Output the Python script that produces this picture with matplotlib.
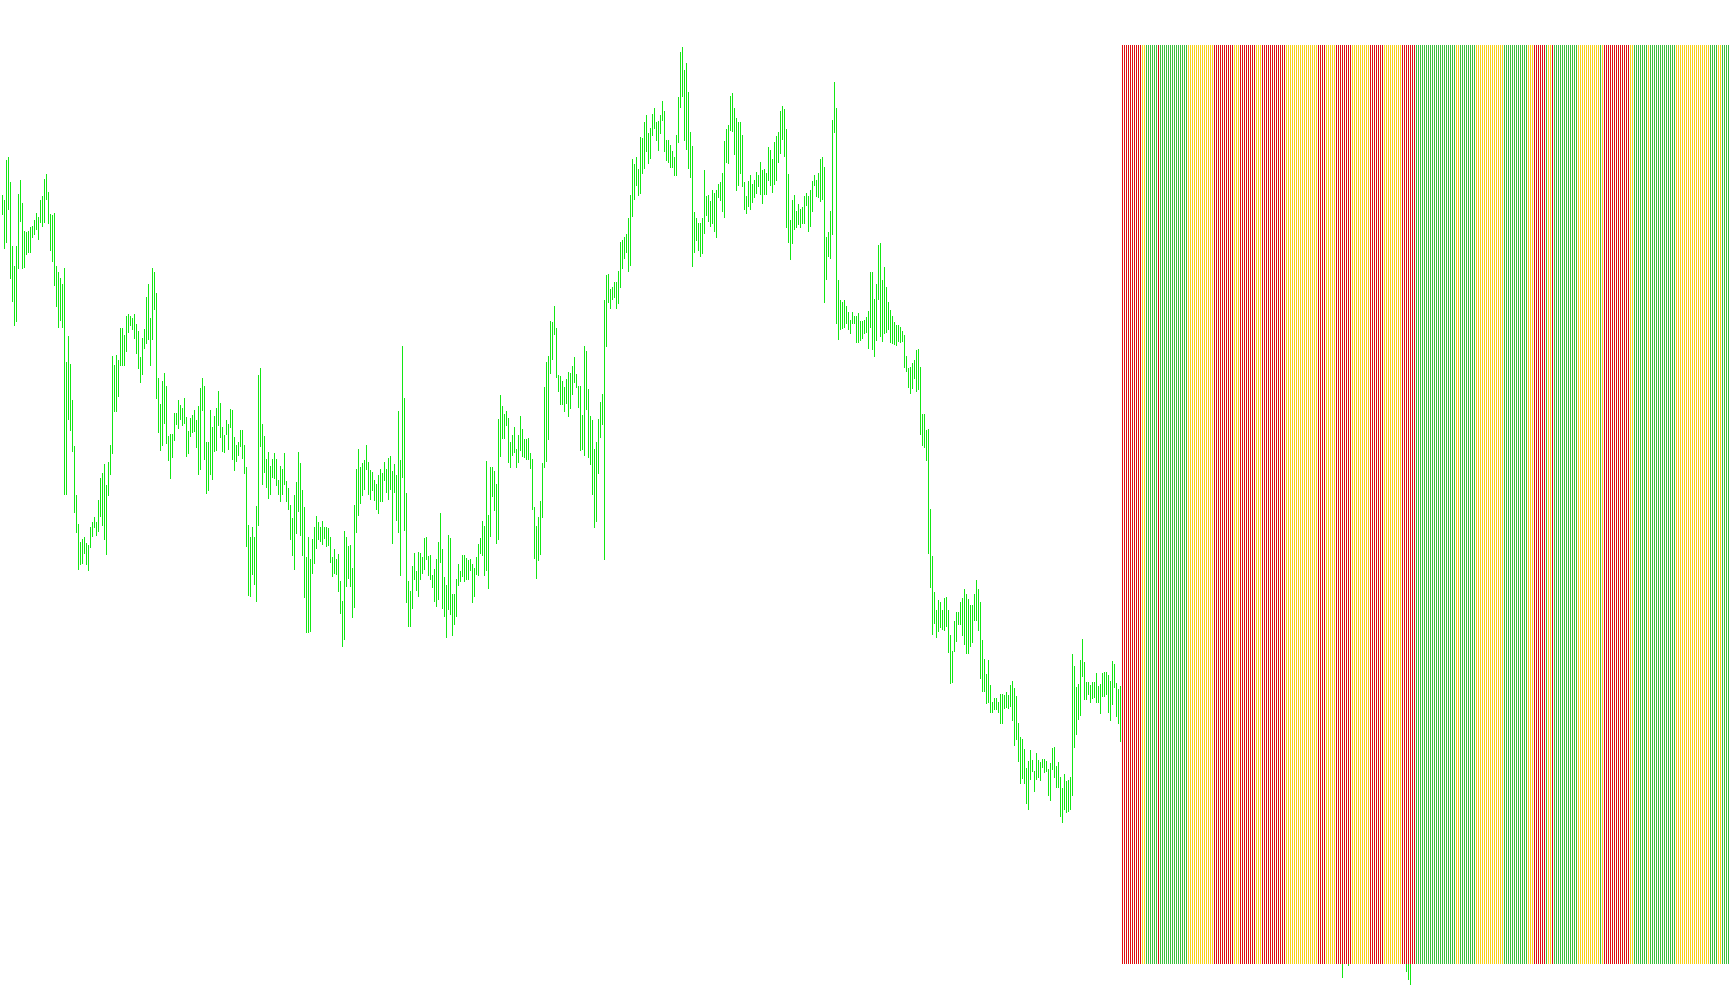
import numpy as np
import matplotlib
matplotlib.use("Agg")
import matplotlib.pyplot as plt

# high / low of each bar (price units)
bar_high = [
    734, 730, 766, 769, 746, 688, 670, 688, 735, 748,
    727, 702, 701, 702, 705, 706, 712, 718, 714, 730,
    733, 749, 753, 737, 717, 716, 718, 670, 664, 659,
    654, 668, 583, 606, 581, 548, 507, 462, 436, 420,
    422, 424, 419, 417, 433, 438, 442, 438, 458, 478,
    482, 490, 471, 492, 508, 588, 580, 589, 585, 614,
    614, 607, 625, 626, 625, 623, 626, 617, 611, 587,
    605, 613, 642, 654, 623, 668, 664, 645, 568, 545,
    566, 573, 561, 516, 518, 518, 537, 537, 548, 544,
    541, 550, 533, 520, 532, 535, 539, 530, 543, 559,
    568, 561, 510, 510, 539, 524, 534, 541, 557, 546,
    524, 517, 530, 527, 540, 539, 515, 508, 510, 521,
    521, 508, 488, 435, 424, 433, 424, 452, 571, 577,
    527, 516, 495, 501, 489, 495, 500, 495, 476, 489,
    486, 500, 475, 469, 453, 441, 462, 474, 501, 491,
    467, 451, 406, 424, 404, 422, 433, 443, 438, 433,
    439, 433, 433, 432, 424, 406, 413, 404, 409, 384,
    366, 430, 424, 416, 417, 396, 453, 486, 504, 488,
    491, 494, 508, 492, 485, 483, 476, 472, 480, 486,
    482, 492, 486, 496, 498, 484, 490, 480, 538, 494,
    597, 550, 464, 384, 375, 398, 410, 393, 411, 410,
    406, 423, 424, 407, 408, 390, 395, 404, 420, 446,
    413, 388, 381, 426, 423, 373, 373, 386, 400, 393,
    408, 408, 405, 403, 404, 400, 396, 406, 418, 423,
    439, 434, 493, 444, 488, 488, 484, 472, 531, 553,
    543, 536, 538, 532, 510, 517, 524, 504, 517, 534,
    522, 513, 513, 514, 500, 495, 451, 434, 442, 457,
    491, 560, 583, 588, 620, 619, 634, 614, 571, 570,
    566, 560, 567, 574, 573, 579, 587, 572, 561, 561,
    535, 597, 593, 558, 534, 530, 504, 510, 531, 547,
    554, 639, 662, 663, 649, 651, 655, 655, 665, 692,
    693, 696, 699, 713, 734, 767, 762, 769, 758, 787,
    786, 800, 807, 790, 795, 808, 813, 800, 801, 807,
    819, 810, 784, 784, 780, 774, 769, 789, 823, 864,
    868, 848, 854, 828, 791, 779, 719, 713, 709, 709,
    713, 757, 733, 734, 729, 739, 736, 739, 744, 746,
    754, 783, 794, 798, 824, 827, 813, 804, 800, 800,
    789, 746, 733, 747, 752, 744, 748, 755, 752, 764,
    757, 758, 754, 778, 775, 767, 782, 788, 791, 810,
    815, 812, 794, 753, 712, 730, 734, 720, 726, 722,
    723, 733, 736, 733, 739, 747, 752, 748, 754, 767,
    769, 760, 696, 701, 720, 802, 837, 813, 657, 639,
    637, 639, 634, 628, 621, 628, 625, 625, 627, 620,
    620, 621, 624, 629, 664, 664, 640, 654, 689, 691,
    657, 669, 651, 637, 630, 625, 619, 616, 616, 615,
    611, 607, 588, 577, 578, 582, 585, 594, 595, 578,
    536, 536, 521, 522, 450, 407, 374, 358, 367, 365,
    358, 369, 370, 358, 335, 321, 348, 356, 356, 365,
    369, 377, 373, 368, 363, 363, 373, 385, 377, 365,
    331, 314, 300, 313, 290, 275, 278, 278, 275, 282,
    282, 281, 284, 281, 290, 294, 287, 280, 256, 243,
    241, 232, 215, 221, 231, 222, 212, 228, 222, 220,
    223, 223, 221, 214, 219, 233, 234, 217, 220, 207,
    197, 209, 203, 204, 207, 318, 307, 288, 291, 313,
    332, 311, 293, 293, 290, 293, 293, 301, 289, 291,
    301, 302, 302, 299, 294, 312, 309, 292, 286, 289,
]
bar_low = [
    717, 686, 692, 722, 659, 638, 616, 620, 668, 711,
    668, 669, 681, 683, 683, 696, 699, 703, 694, 710,
    706, 710, 731, 709, 684, 674, 653, 634, 615, 621,
    615, 463, 463, 531, 521, 502, 447, 429, 395, 400,
    401, 410, 400, 394, 415, 425, 433, 426, 430, 443,
    435, 422, 409, 462, 481, 500, 538, 538, 552, 580,
    580, 580, 593, 610, 616, 613, 605, 591, 577, 565,
    572, 596, 600, 604, 580, 604, 631, 550, 519, 503,
    508, 528, 509, 494, 478, 497, 512, 527, 523, 531,
    526, 528, 498, 500, 516, 519, 520, 506, 481, 486,
    539, 495, 464, 467, 481, 477, 502, 503, 526, 515,
    502, 501, 518, 504, 524, 495, 485, 493, 499, 507,
    496, 482, 416, 372, 371, 391, 382, 366, 435, 507,
    472, 483, 470, 460, 463, 479, 478, 471, 463, 457,
    463, 472, 457, 450, 422, 408, 395, 428, 448, 426,
    408, 370, 338, 338, 339, 392, 401, 414, 422, 421,
    418, 423, 416, 417, 402, 389, 392, 391, 375, 355,
    325, 332, 380, 387, 380, 352, 361, 429, 444, 455,
    462, 468, 486, 463, 459, 467, 458, 450, 446, 457,
    457, 476, 465, 459, 468, 419, 465, 440, 429, 390,
    479, 431, 365, 344, 344, 360, 386, 376, 371, 386,
    392, 395, 404, 390, 386, 379, 366, 362, 368, 402,
    360, 353, 334, 359, 354, 335, 345, 353, 381, 384,
    389, 384, 386, 386, 394, 365, 371, 391, 390, 410,
    408, 390, 394, 378, 425, 461, 449, 419, 422, 498,
    514, 514, 526, 492, 488, 499, 501, 488, 492, 503,
    498, 497, 495, 495, 487, 450, 405, 387, 403, 409,
    442, 488, 493, 513, 573, 586, 608, 569, 557, 545,
    545, 538, 546, 534, 541, 554, 565, 560, 542, 503,
    504, 499, 540, 497, 490, 463, 433, 439, 482, 515,
    527, 404, 597, 637, 632, 640, 642, 632, 636, 651,
    668, 677, 683, 665, 671, 715, 731, 743, 734, 736,
    754, 759, 774, 763, 768, 789, 795, 784, 775, 790,
    802, 774, 766, 764, 760, 760, 752, 752, 782, 814,
    824, 784, 776, 759, 751, 670, 683, 693, 684, 679,
    682, 700, 716, 711, 706, 709, 702, 696, 732, 730,
    720, 714, 764, 763, 793, 792, 771, 739, 743, 754,
    742, 722, 718, 724, 722, 728, 732, 736, 742, 735,
    727, 735, 735, 748, 743, 737, 744, 748, 764, 772,
    785, 770, 705, 692, 676, 691, 703, 705, 708, 705,
    709, 709, 725, 702, 706, 720, 743, 733, 732, 729,
    731, 637, 658, 679, 677, 699, 791, 618, 604, 613,
    614, 615, 618, 613, 609, 618, 618, 601, 601, 603,
    605, 609, 610, 596, 615, 595, 588, 603, 640, 606,
    602, 609, 610, 613, 601, 600, 599, 598, 602, 601,
    602, 578, 575, 560, 555, 559, 568, 557, 558, 518,
    508, 506, 494, 410, 379, 336, 346, 334, 339, 343,
    341, 340, 344, 320, 292, 293, 321, 330, 345, 345,
    335, 327, 319, 319, 325, 329, 349, 349, 340, 296,
    285, 285, 274, 275, 266, 266, 268, 268, 266, 256,
    256, 269, 270, 269, 271, 258, 236, 241, 221, 201,
    206, 201, 183, 178, 205, 212, 194, 205, 207, 204,
    216, 211, 212, 190, 186, 214, 207, 198, 198, 171,
    166, 178, 175, 176, 178, 190, 234, 246, 259, 263,
    298, 277, 277, 282, 275, 278, 279, 275, 275, 265,
    280, 280, 282, 266, 258, 273, 288, 262, 256, 239,
]

# bars that sit behind the signal strip, only their tails show below it
hidden_idx = [670, 673, 702, 703, 704]
hidden_high = [110, 100, 90, 95, 85]
hidden_low = [25, 36, 31, 24, 19]

# signal strip: colour code per bar as runs (R red, G green, Y yellow)
signal_start = 560
signal_runs = [
    ("R", 10), ("Y", 2), ("G", 6), ("R", 1), ("G", 14), ("Y", 13),
    ("R", 10), ("Y", 3), ("R", 8), ("Y", 3), ("R", 12), ("Y", 16),
    ("R", 4), ("Y", 5), ("R", 8), ("Y", 9), ("R", 7), ("Y", 9),
    ("R", 7), ("G", 20), ("Y", 2), ("G", 8), ("Y", 14), ("G", 12),
    ("Y", 3), ("R", 6), ("G", 1), ("Y", 2), ("R", 1), ("G", 12),
    ("Y", 11), ("G", 1), ("Y", 1), ("R", 13), ("Y", 2), ("G", 7),
    ("Y", 1), ("G", 13), ("Y", 17), ("G", 4), ("Y", 2), ("G", 5),
]
band_low = 38
band_high = 870

price_color = "#14e614"
signal_colors = {"R": "#dd1010", "G": "#3cc03c", "Y": "#f7d117"}
lw = 0.6  # about one pixel

fig = plt.figure(figsize=(17.30, 10.05), dpi=100)
ax = fig.add_axes([0, 0, 1, 1])

x = np.arange(len(bar_high))
ax.vlines(x, bar_low, bar_high, colors=price_color, linewidth=lw, antialiased=False)
ax.vlines(hidden_idx, hidden_low, hidden_high, colors=price_color, linewidth=lw, antialiased=False)

codes = "".join(c * n for c, n in signal_runs)
sx = signal_start + np.arange(len(codes))
ax.vlines(sx, band_low, band_high, colors=[signal_colors[c] for c in codes],
          linewidth=lw, antialiased=False)

ax.set_xlim(-0.75, 864.25)
ax.set_ylim(0, 911)
ax.axis("off")

fig.savefig("out.png", dpi=100, facecolor="white")
